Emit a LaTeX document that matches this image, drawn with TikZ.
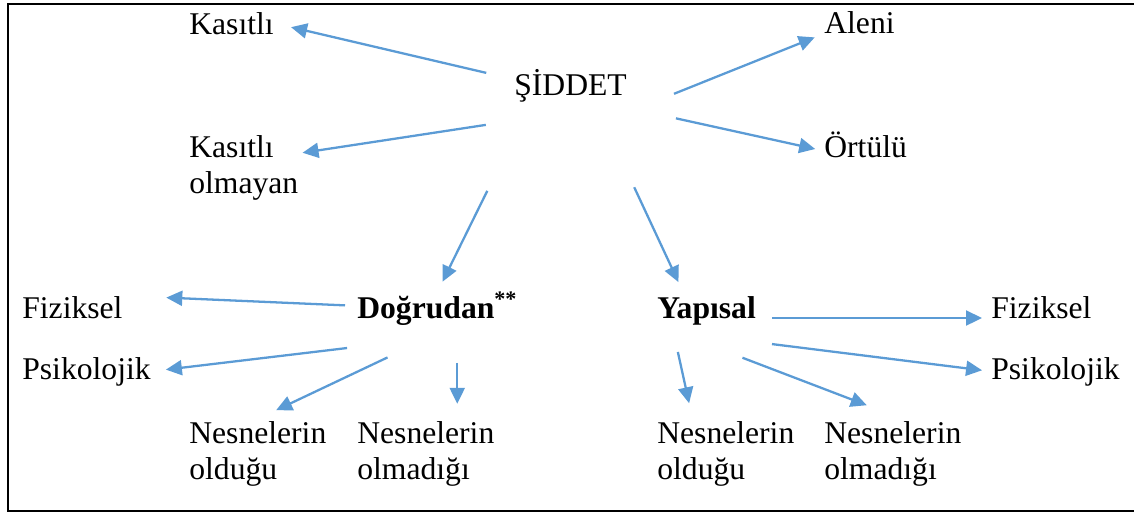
\documentclass[tikz,border=0pt]{standalone}
\usepackage{fontspec}
\setmainfont{Liberation Serif}
\usetikzlibrary{arrows.meta}
\definecolor{arrblue}{HTML}{5B9BD5}

\begin{document}
\begin{tikzpicture}[x=0.02cm, y=-0.02cm,
		lbl/.style={inner sep=0pt, anchor=base west, font=\fontsize{18}{20.5}\selectfont},
		blk/.style={lbl, anchor=north west, align=left},
		arr/.style={draw=arrblue, line width=1.3pt, -{Triangle[length=0.32cm, width=0.3cm]}}]
		\useasboundingbox (0,0) rectangle (1134,512);
		\draw [line width=1.4pt](1134,4)--(8,4)--(8,511)--(1134,511);

		\node (sid)[lbl]at (514,95)  {ŞİDDET};
		\node (kas)[lbl]at (189,34)  {Kasıtlı};
		\node (kasol)[blk]at (189,135.3)  {Kasıtlı\\olmayan};
		\node (aleni)[lbl]at (824,33)  {Aleni};
		\node (ortulu)[lbl]at (824,157)  {Örtülü};
		\node (dog)[lbl]at (357,318)  {\textbf{Doğrudan\textsuperscript{**}}};
		\node (yap)[lbl]at (657,318)  {\textbf{Yapısal}};
		\node (fizL)[lbl]at (22,318)  {Fiziksel};
		\node (psiL)[lbl]at (22,379)  {Psikolojik};
		\node (fizR)[lbl]at (991,318)  {Fiziksel};
		\node (psiR)[lbl]at (991,379)  {Psikolojik};
		\node (nesL1)[blk]at (189,421.3)  {Nesnelerin\\olduğu};
		\node (nesL2)[blk]at (357,421.3)  {Nesnelerin\\olmadığı};
		\node (nesR1)[blk]at (657,421.3)  {Nesnelerin\\olduğu};
		\node (nesR2)[blk]at (824,421.3)  {Nesnelerin\\olmadığı};

		\draw [arr, shorten <=0.57cm, shorten >=0.35cm](sid.174)--(kas.east);
		\draw [arr, shorten <=0.57cm, shorten >=0.08cm]([yshift=-0.37cm]sid.south west)--(kasol.15);
		\draw [arr, shorten <=1.01cm, shorten >=0.2cm]([yshift=-0.21cm]sid.south east)--(aleni.south west);
		\draw [arr, shorten <=1.0cm, shorten >=0.18cm]([yshift=-0.11cm]sid.south east)--(ortulu.189);
		\draw [arr, shorten <=1.98cm, shorten >=0.23cm](sid.203)--(dog.north);
		\draw [arr, shorten <=1.88cm, shorten >=0.3cm](sid.-35)--(yap.146);

		\draw [arr, shorten <=0.24cm, shorten >=0.87cm](dog.178)--(fizL.north east);
		\draw [arr, shorten <=0.2cm, shorten >=0.3cm]([yshift=-0.43cm]dog.south west)--(psiL.east);
		\draw [arr, shorten <=1.5cm, shorten >=0.52cm](dog.-43)--(nesL1.99);
		\draw [arr, shorten <=0.75cm, shorten >=0.35cm](dog.-40)--(dog.-40 |- nesL2.north);

		\draw [arr, shorten <=0.32cm, shorten >=0.18cm](yap.base east)--(fizR.base west);
		\draw [arr, shorten <=0.32cm, shorten >=0.18cm]([yshift=-0.34cm]yap.south east)--(psiR.west);
		\draw [arr, shorten <=0.55cm, shorten >=0.37cm](yap.203)--(nesR1.135);
		\draw [arr, shorten <=1.83cm, shorten >=0.9cm](yap.south west)--(nesR2.64);
	\end{tikzpicture}
\end{document}
